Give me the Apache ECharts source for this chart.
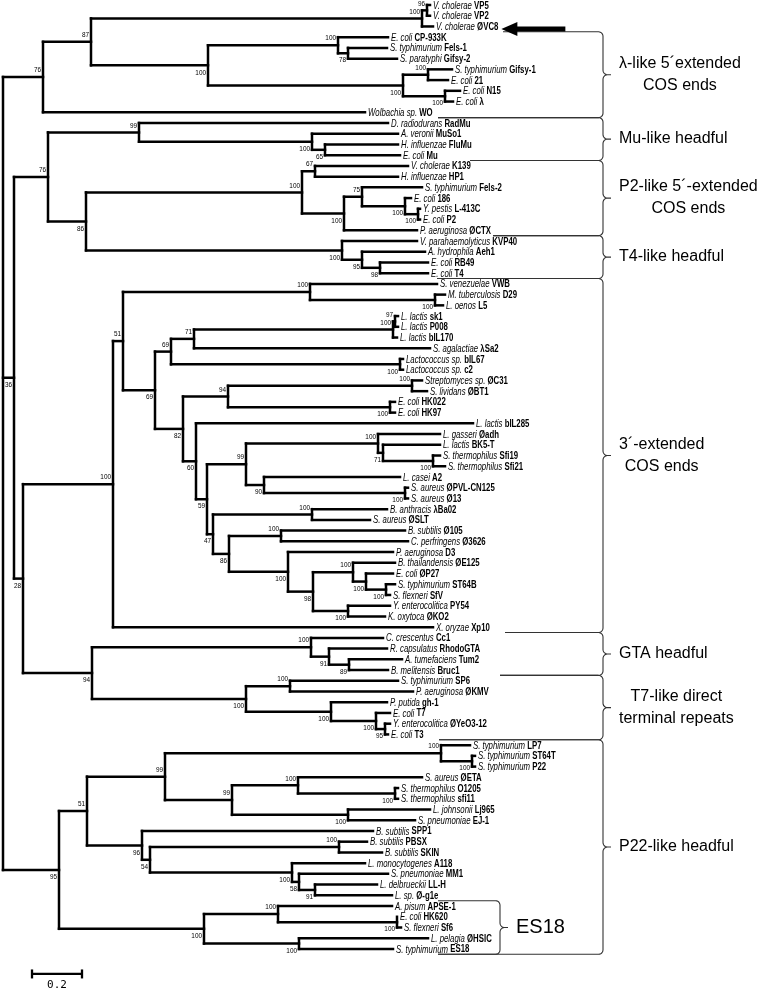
<!DOCTYPE html>
<html><head><meta charset="utf-8">
<script src="https://cdn.jsdelivr.net/npm/echarts@6/dist/echarts.min.js"></script>
<style>html,body{margin:0;padding:0;background:#fff}#c{width:778px;height:991px}</style>
</head><body><div id="c"></div>
<script>
// ---------------- DATA ----------------
const species = ["V. cholerae","V. cholerae","V. cholerae","E. coli","S. typhimurium","S. paratyphi","S. typhimurium","E. coli","E. coli","E. coli",
"Wolbachia sp.","D. radiodurans","A. veronii","H. influenzae","E. coli","V. cholerae","H. influenzae","S. typhimurium","E. coli","Y. pestis",
"E. coli","P. aeruginosa","V. parahaemolyticus","A. hydrophila","E. coli","E. coli","S. venezuelae","M. tuberculosis","L. oenos","L. lactis",
"L. lactis","L. lactis","S. agalactiae","Lactococcus sp.","Lactococcus sp.","Streptomyces sp.","S. lividans","E. coli","E. coli","L. lactis",
"L. gasseri","L. lactis","S. thermophilus","S. thermophilus","L. casei","S. aureus","S. aureus","B. anthracis","S. aureus","B. subtilis",
"C. perfringens","P. aeruginosa","B. thailandensis","E. coli","S. typhimurium","S. flexneri","Y. enterocolitica","K. oxytoca","X. oryzae","C. crescentus",
"R. capsulatus","A. tumefaciens","B. melitensis","S. typhimurium","P. aeruginosa","P. putida","E. coli","Y. enterocolitica","E. coli","S. typhimurium",
"S. typhimurium","S. typhimurium","S. aureus","S. thermophilus","S. thermophilus","L. johnsonii","S. pneumoniae","B. subtilis","B. subtilis","B. subtilis",
"L. monocytogenes","S. pneumoniae","L. delbrueckii","L. sp.","A. pisum","E. coli","S. flexneri","L. pelagia","S. typhimurium"];
const phages = ["VP5","VP2","ØVC8","CP-933K","Fels-1","Gifsy-2","Gifsy-1","21","N15","λ",
"WO","RadMu","MuSo1","FluMu","Mu","K139","HP1","Fels-2","186","L-413C",
"P2","ØCTX","KVP40","Aeh1","RB49","T4","VWB","D29","L5","sk1",
"P008","bIL170","λSa2","bIL67","c2","ØC31","ØBT1","HK022","HK97","bIL285",
"Øadh","BK5-T","Sfi19","Sfi21","A2","ØPVL-CN125","Ø13","λBa02","ØSLT","Ø105",
"Ø3626","D3","ØE125","ØP27","ST64B","SfV","PY54","ØKO2","Xp10","Cc1",
"RhodoGTA","Tum2","Bruc1","SP6","ØKMV","gh-1","T7","ØYeO3-12","T3","LP7",
"ST64T","P22","ØETA","O1205","sfi11","Lj965","EJ-1","SPP1","PBSX","SKIN",
"A118","MM1","LL-H","Ø-g1e","APSE-1","HK620","Sf6","ØHSIC","ES18"];

// Newick-like clades: leaf = index into the arrays above; number after ':' = distance from root;
// text after ')' = bootstrap support; [b] = support printed under the node
const cladeLambda = "((((0:1.708,1:1.708)96:1.696,2:1.720)100:1.676,((3:1.540,(4:1.536,5:1.576)78[b]:1.380)100:1.340,((6:1.796,7:1.780)100:1.700,(8:1.828,9:1.800)100[b]:1.768)100[b]:1.600)100[b]:0.820)87:0.352,10:1.448)76:0.160";
const cladeMuP2T4 = "((11:1.540,(12:1.580,(13:1.580,14:1.588)65[b]:1.288)100[b]:1.236)99:0.544,(((15:1.620,16:1.580)67:1.248,((17:1.676,(18:1.632,(19:1.668,20:1.668)100[b]:1.660)100[b]:1.608)75:1.436,21:1.656)100[b]:1.364)100:1.196,(22:1.656,(23:1.688,(24:1.700,25:1.700)98[b]:1.508)95[b]:1.436)100[b]:1.356)86[b]:0.332)76:0.180";
const cladeCos3 = "(((26:1.736,(27:1.768,28:1.760)100[b]:1.728)100:1.228,(((((29:1.580,30:1.580)97:1.568,31:1.576)100:1.560,32:1.708)71:0.764,(33:1.600,34:1.600)100[b]:1.588)69:0.672,(((35:1.676,36:1.696)100:1.636,(37:1.568,38:1.568)100[b]:1.548)94:0.900,(39:1.880,(((40:1.748,(41:1.748,(42:1.748,43:1.768)100[b]:1.720)71[b]:1.520)100:1.500,(44:1.588,(45:1.620,46:1.620)100[b]:1.608)90[b]:1.044)99:0.972,((47:1.536,48:1.468)100:1.236,((49:1.608,50:1.620)100:1.112,(51:1.560,((52:1.568,(53:1.560,(54:1.568,55:1.548)100[b]:1.532)100[b]:1.452)100:1.400,(56:1.548,57:1.528)100[b]:1.380)98[b]:1.240)100[b]:1.140)86[b]:0.904)47[b]:0.840)59[b]:0.816)60[b]:0.772)82[b]:0.720)69[b]:0.608)51:0.480,58:1.720)100:0.440";
const cladeGtaT7 = "((59:1.520,(60:1.536,(61:1.596,62:1.540)89[b]:1.384)91[b]:1.304)100:1.232,((63:1.580,64:1.640)100:1.148,(65:1.536,(66:1.548,(67:1.548,68:1.540)95[b]:1.528)100[b]:1.492)100[b]:1.312)100[b]:0.972)94[b]:0.356";
const cladeP22 = "((((69:1.868,(70:1.888,71:1.888)100[b]:1.876)100:1.752,((72:1.676,(73:1.580,74:1.580)100[b]:1.568)100:1.180,(75:1.708,76:1.648)100[b]:1.380)99:0.916)99:0.648,(77:1.480,((78:1.456,79:1.516)100:1.344,(80:1.448,(81:1.540,(82:1.496,83:1.556)91[b]:1.248)58[b]:1.184)100[b]:1.156)54[b]:0.588)96[b]:0.556)51:0.336,((84:1.556,(85:1.576,86:1.592)100[b]:1.576)100:1.100,(87:1.700,88:1.560)100[b]:1.184)100[b]:0.804)95[b]:0.224";
const treeNewick = "(" + cladeLambda + ",(" + cladeMuP2T4 + ",(" + cladeCos3 + "," + cladeGtaT7 + ")28[b]:0.080)36[b]:0.044," + cladeP22 + "):0";

const groupNames = ["λ-like 5´extended\nCOS ends","Mu-like headful","P2-like 5´-extended\nCOS ends","T4-like headful","3´-extended\nCOS ends","GTA headful","T7-like direct\nterminal repeats","P22-like headful","ES18"];
const groupFirst = [3, 11, 15, 22, 26, 59, 63, 69, 84];
const groupLast  = [10, 14, 21, 25, 58, 62, 68, 88, 88];
const arrowLeaf = 2;
const scaleBarLength = 0.2;
const scaleBarLabel = "0.2";

// ---------------- PARSE ----------------
function parseNewick(s){
  let i = 0;
  function node(){
    const n = {children: []};
    if (s[i] === '('){
      i++; n.children.push(node());
      while (s[i] === ','){ i++; n.children.push(node()); }
      i++;
    }
    let lab = '';
    while (i < s.length && !':,()['.includes(s[i])) lab += s[i++];
    if (s[i] === '['){ i++; let c = ''; while (s[i] !== ']') c += s[i++]; i++; n.below = (c === 'b'); }
    if (s[i] === ':'){ i++; let v = ''; while (i < s.length && !',()'.includes(s[i])) v += s[i++]; n.depth = parseFloat(v); }
    if (n.children.length) n.support = lab; else n.leaf = parseInt(lab, 10);
    return n;
  }
  return node();
}
const root = parseNewick(treeNewick);
const leaves = [], internals = [], segs = [];
(function walk(n, parent){
  if (!n.children.length){ n.y = n.leaf; leaves.push(n); }
  else {
    n.children.forEach(c => walk(c, n));
    n.y = (n.children[0].y + n.children[n.children.length-1].y) / 2;
    segs.push([n.depth, n.children[0].y, n.depth, n.children[n.children.length-1].y]);
    if (n.support) internals.push(n);
  }
  if (parent) segs.push([parent.depth, n.y, n.depth, n.y]);
})(root, null);
const leafByIdx = [];
leaves.forEach(l => leafByIdx[l.leaf] = l);

// ---------------- STYLE ----------------
const FAM = "'Liberation Sans', Arial, sans-serif";
const LEAF_SIZE = 11;
const LEAF_SX = 0.71;      // condensed look of the original labels
const SUP_SIZE = 8, SUP_SX = 0.8;
// where the brace arms start on the left (px): [top, bottom] per group
const ARM_X = [[503, 438], [438, 470], [470, 493], [493, 437], [437, 505], [505, 500], [500, 439], [439, 438], [438, 438]];
const mctx = document.createElement('canvas').getContext('2d');
function tw(font, s){ mctx.font = font; return mctx.measureText(s).width; }
function labelWidth(i){
  return LEAF_SX * (tw('italic ' + LEAF_SIZE + 'px ' + FAM, species[i]) + tw(LEAF_SIZE + 'px ' + FAM, ' ') + tw('bold ' + LEAF_SIZE + 'px ' + FAM, phages[i]));
}
const GAP = 3;
function labelEnd(api, i){
  const l = leafByIdx[i];
  return api.coord([l.depth, l.y])[0] + GAP + labelWidth(i);
}

function bracePoints(xv, yTop, yBot, tip, r, armTop, armBot){
  const pts = [[armTop, yTop]];
  const yMid = (yTop + yBot) / 2;
  const arc = (cx, cy, a0, a1) => { for (let k = 0; k <= 6; k++){ const a = (a0 + (a1 - a0) * k / 6) * Math.PI / 180; pts.push([cx + r*Math.cos(a), cy + r*Math.sin(a)]); } };
  arc(xv - r, yTop + r, -90, 0);
  arc(xv + r, yMid - r, 180, 90);
  pts.push([xv + tip, yMid]);
  arc(xv + r, yMid + r, 270, 180);
  arc(xv - r, yBot - r, 0, 90);
  pts.push([armBot, yBot]);
  return pts;
}

const chart = echarts.init(document.getElementById('c'), null, {renderer: 'canvas'});
chart.setOption({
  animation: false,
  backgroundColor: '#fff',
  grid: {left: 3, top: 5, width: 775, height: 981.5},
  xAxis: {type: 'value', min: 0, max: 3.1, show: false},
  yAxis: {type: 'value', min: 0, max: 91.5, inverse: true, show: false},
  series: [
    { // branches
      type: 'custom', silent: true, clip: false,
      data: segs,
      renderItem: (p, api) => {
        const s = segs[p.dataIndex];
        const a = api.coord([s[0], s[1]]), b = api.coord([s[2], s[3]]);
        return {type: 'line', shape: {x1: a[0], y1: a[1], x2: b[0], y2: b[1]},
          style: {stroke: '#000', lineWidth: 2.5, lineCap: 'square'}};
      }
    },
    { // group braces and names (drawn under the labels)
      type: 'custom', silent: true, clip: false,
      data: groupNames.map((g, k) => [groupFirst[k], groupLast[k]]),
      renderItem: (p, api) => {
        const k = p.dataIndex;
        const small = groupNames[k] === 'ES18';
        const yTop = api.coord([0, groupFirst[k] - 0.5])[1];
        const yBot = api.coord([0, groupLast[k] + 0.5])[1];
        const xv = small ? 500 : 603;
        const tip = 8, r = 4.5;
        const fs = small ? 20 : 16;
        const font = fs + 'px ' + FAM;
        const lines = groupNames[k].split('\n');
        const wmax = Math.max(...lines.map(t => tw(font, t)));
        const x0 = xv + tip + 8;
        return {type: 'group', children: [
          {type: 'polyline', shape: {points: bracePoints(xv, yTop, yBot, tip, r, ARM_X[k][0], ARM_X[k][1])},
            style: {stroke: '#333', lineWidth: 1.1, fill: null}},
          {type: 'text', x: x0 + wmax / 2, y: (yTop + yBot) / 2,
            style: {text: groupNames[k], fontSize: fs, fontFamily: FAM, fill: '#000',
              align: 'center', verticalAlign: 'middle', lineHeight: 22}}
        ]};
      }
    },
    { // leaf labels
      type: 'custom', silent: true, clip: false,
      data: leaves.map(l => [l.depth, l.y]),
      renderItem: (p, api) => {
        const l = leaves[p.dataIndex];
        const c = api.coord([l.depth, l.y]);
        return {type: 'text', x: c[0] + GAP, y: c[1] + 0.5, scaleX: LEAF_SX,
          style: {text: '{i|' + species[l.leaf] + '} {b|' + phages[l.leaf] + '}',
            fontSize: LEAF_SIZE, fontFamily: FAM, fill: '#000', align: 'left', verticalAlign: 'middle',
            rich: {i: {fontStyle: 'italic', fontSize: LEAF_SIZE, fontFamily: FAM, fill: '#000'},
                   b: {fontWeight: 'bold', fontSize: LEAF_SIZE, fontFamily: FAM, fill: '#000'}}}};
      }
    },
    { // support values
      type: 'custom', silent: true, clip: false,
      data: internals.map(n => [n.depth, n.y]),
      renderItem: (p, api) => {
        const n = internals[p.dataIndex];
        const c = api.coord([n.depth, n.y]);
        return {type: 'text', x: c[0] - 2, y: n.below ? c[1] + 3 : c[1] - 3, scaleX: SUP_SX,
          style: {text: n.support, fontSize: SUP_SIZE, fontFamily: FAM, fill: '#000', align: 'right',
            verticalAlign: n.below ? 'top' : 'bottom'}};
      }
    },
    { // arrow marking the studied phage + scale bar
      type: 'custom', silent: true, clip: false,
      data: [[0, 0]],
      renderItem: (p, api) => {
        const l = leafByIdx[arrowLeaf];
        const y = api.coord([0, l.y])[1] + 2.5;
        const xt = labelEnd(api, arrowLeaf) + 3;
        const xe = xt + 64;
        const a = api.coord([0.116, 90.33]), b = api.coord([0.116 + scaleBarLength, 90.33]);
        return {type: 'group', children: [
          {type: 'polygon', shape: {points: [[xt, y], [xt + 16, y - 7], [xt + 16, y - 2.5], [xe, y - 2.5], [xe, y + 2.5], [xt + 16, y + 2.5], [xt + 16, y + 7]]},
            style: {fill: '#000'}},
          {type: 'line', shape: {x1: a[0], y1: a[1], x2: b[0], y2: b[1]}, style: {stroke: '#000', lineWidth: 2.3}},
          {type: 'line', shape: {x1: a[0], y1: a[1] - 4.5, x2: a[0], y2: a[1] + 4.5}, style: {stroke: '#000', lineWidth: 2.3}},
          {type: 'line', shape: {x1: b[0], y1: b[1] - 4.5, x2: b[0], y2: b[1] + 4.5}, style: {stroke: '#000', lineWidth: 2.3}},
          {type: 'text', x: (a[0] + b[0]) / 2, y: a[1] + 6,
            style: {text: scaleBarLabel, fontSize: 11, fontFamily: '"DejaVu Sans Mono", monospace', fill: '#000', align: 'center', verticalAlign: 'top'}}
        ]};
      }
    }
  ]
});
</script></body></html>
